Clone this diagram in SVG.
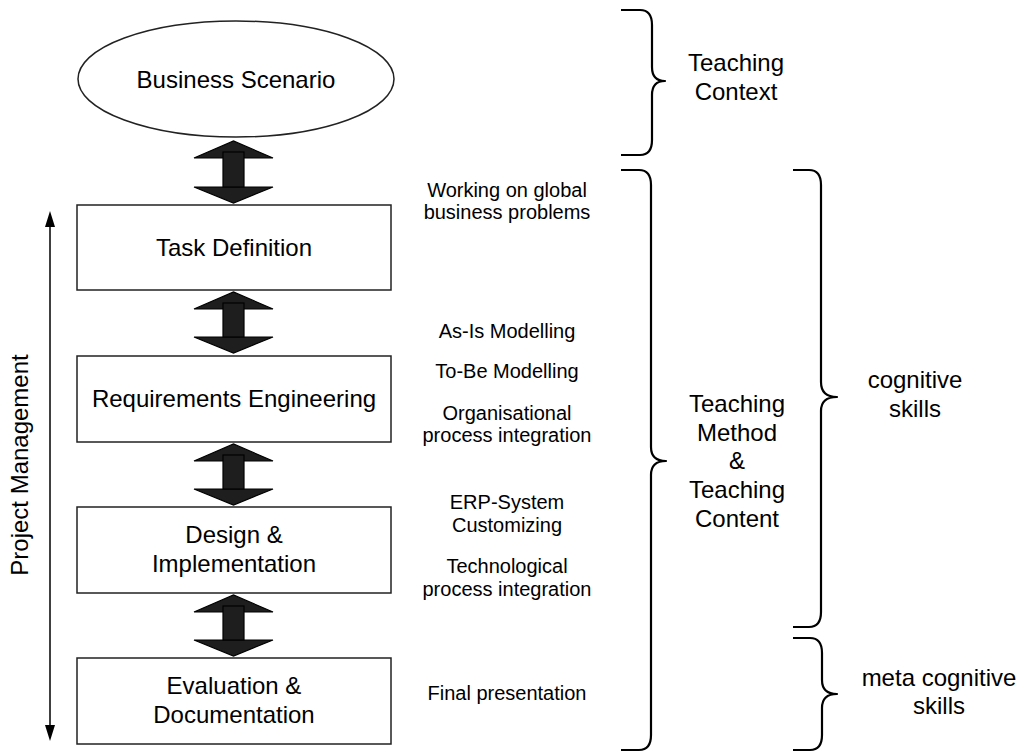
<svg xmlns="http://www.w3.org/2000/svg" width="1020" height="752" viewBox="0 0 1020 752">
<defs>
<style>
text{font-family:"Liberation Sans",Arial,sans-serif;fill:#000;text-anchor:middle}
.big{font-size:24px}
.small{font-size:20px}
.box{fill:#fff;stroke:#222;stroke-width:1.5}
.brace{fill:none;stroke:#000;stroke-width:2.2;stroke-linejoin:round}
.dbl{fill:#1e1e1e;stroke:#000;stroke-width:1.2;stroke-linejoin:miter}
</style>
<marker id="ah" markerWidth="10" markerHeight="16" refX="5" refY="16" orient="auto-start-reverse" markerUnits="userSpaceOnUse" viewBox="0 0 10 16">
<path d="M0,16 L5,0 L10,16 Z" fill="#000"/>
</marker>
</defs>
<rect width="1020" height="752" fill="#fff"/>

<g id="connectors">
<line x1="50" y1="227" x2="50" y2="725" stroke="#000" stroke-width="1.5"/>
<path d="M45,227 L50,211 L55,227 Z" fill="#000"/>
<path d="M45,725 L50,741 L55,725 Z" fill="#000"/>
<g id="arrow1">
<path class="dbl" d="M194,158 L233.5,141 L273,158 Z"/>
<path class="dbl" d="M194,187 L273,187 L233.5,203 Z"/>
<rect class="dbl" x="223" y="152" width="21" height="35"/>
</g>
<g id="arrow2">
<path class="dbl" d="M194,309 L233.5,292 L273,309 Z"/>
<path class="dbl" d="M194,337 L273,337 L233.5,353 Z"/>
<rect class="dbl" x="223" y="303" width="21" height="34"/>
</g>
<g id="arrow3">
<path class="dbl" d="M194,461 L233.5,444 L273,461 Z"/>
<path class="dbl" d="M194,489 L273,489 L233.5,505 Z"/>
<rect class="dbl" x="223" y="455" width="21" height="34"/>
</g>
<g id="arrow4">
<path class="dbl" d="M194,612 L233.5,595 L273,612 Z"/>
<path class="dbl" d="M194,640 L273,640 L233.5,656 Z"/>
<rect class="dbl" x="223" y="606" width="21" height="34"/>
</g>
</g>

<g id="business-scenario">
<ellipse cx="236" cy="79" rx="158" ry="58" fill="#fff" stroke="#222" stroke-width="1.5"/>
<text class="big" x="236" y="88">Business Scenario</text>
</g>

<g id="task-definition">
<rect class="box" x="77" y="205" width="314" height="85"/>
<text class="big" x="234" y="256">Task Definition</text>
</g>

<g id="requirements-engineering">
<rect class="box" x="77" y="356" width="314" height="86"/>
<text class="big" x="234" y="407">Requirements Engineering</text>
</g>

<g id="design-implementation">
<rect class="box" x="77" y="507" width="314" height="86"/>
<text class="big" x="234" y="543">Design &amp;</text>
<text class="big" x="234" y="572">Implementation</text>
</g>

<g id="evaluation-documentation">
<rect class="box" x="77" y="658" width="314" height="86"/>
<text class="big" x="234" y="694">Evaluation &amp;</text>
<text class="big" x="234" y="723">Documentation</text>
</g>

<g id="project-management">
<text class="big" transform="translate(28,465) rotate(-90)" x="0" y="0">Project Management</text>
</g>

<g id="side-notes">
<text class="small" x="507" y="197">Working on global</text>
<text class="small" x="507" y="219">business problems</text>
<text class="small" x="507" y="338">As-Is Modelling</text>
<text class="small" x="507" y="378">To-Be Modelling</text>
<text class="small" x="507" y="420">Organisational</text>
<text class="small" x="507" y="442">process integration</text>
<text class="small" x="507" y="509">ERP-System</text>
<text class="small" x="507" y="532">Customizing</text>
<text class="small" x="507" y="573">Technological</text>
<text class="small" x="507" y="596">process integration</text>
<text class="small" x="507" y="700">Final presentation</text>
</g>

<g id="braces">
<path class="brace" d="M621,10 H640 Q652,10 652,25 V67 Q652,81 665,81 Q652,81 652,95 V140 Q652,155 640,155 H621"/>
<path class="brace" d="M621,170 H639 Q651,170 651,185 V447 Q651,461 666,461 Q651,461 651,475 V735 Q651,750 639,750 H621"/>
<path class="brace" d="M793,170 H809 Q821,170 821,185 V382 Q821,397 837,397 Q821,397 821,411 V612 Q821,627 809,627 H793"/>
<path class="brace" d="M793,638 H810 Q822,638 822,653 V680 Q822,694 837,694 Q822,694 822,708 V735 Q822,750 810,750 H793"/>
</g>

<g id="teaching-context">
<text class="big" x="736" y="71">Teaching</text>
<text class="big" x="736" y="100">Context</text>
</g>

<g id="teaching-method">
<text class="big" x="737" y="412">Teaching</text>
<text class="big" x="737" y="441">Method</text>
<text class="big" x="737" y="469">&amp;</text>
<text class="big" x="737" y="498">Teaching</text>
<text class="big" x="737" y="527">Content</text>
</g>

<g id="cognitive-skills">
<text class="big" x="915" y="388">cognitive</text>
<text class="big" x="915" y="417">skills</text>
</g>

<g id="meta-cognitive-skills">
<text class="big" x="939" y="686">meta cognitive</text>
<text class="big" x="939" y="714">skills</text>
</g>
</svg>
